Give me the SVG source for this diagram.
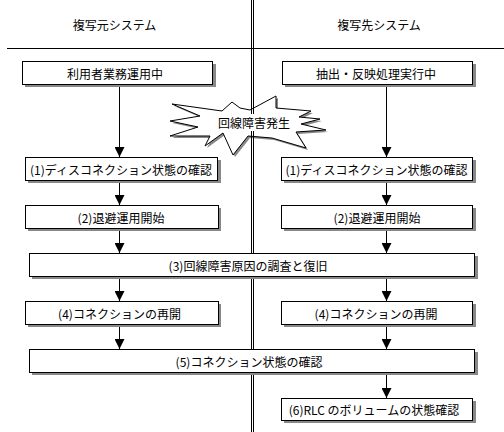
<svg xmlns="http://www.w3.org/2000/svg" width="504" height="432" viewBox="0 0 504 432">
<style>
text{font-family:"Noto Sans CJK JP","Noto Sans",sans-serif;font-size:12px;fill:#000;text-anchor:middle;dominant-baseline:central}
.box{fill:#fff;stroke:#000;stroke-width:1;shape-rendering:crispEdges}
.sh{fill:#888;shape-rendering:crispEdges}
.ln{stroke:#000;stroke-width:1;fill:none;shape-rendering:crispEdges}
.conn{stroke:#000;stroke-width:1;fill:none;marker-end:url(#ah)}
</style>
<defs>
<marker id="ah" viewBox="0 0 10 10" refX="10" refY="5" markerWidth="10" markerHeight="10" markerUnits="userSpaceOnUse" orient="auto">
<path d="M0,0 L10,5 L0,10 z" fill="#000"/>
</marker>
</defs>
<rect width="504" height="432" fill="#fff"/>
<g id="header">
<text x="114.5" y="24.5">複写元システム</text>
<text x="379" y="24.5">複写先システム</text>
<line class="ln" x1="7" y1="48.5" x2="504" y2="48.5"/>
</g>
<g id="burst">
<polygon fill="#888" transform="translate(2,2)" points="172,104 222,111 232,102 240,108 250,110 276,96 276,108 311,111 299,117 320,119 301,124 326,130 296,132 306,148 272,138 248,136 233,155 223,133 205,146 210,136 170,136 198,127 170,121 200,116"/>
<polygon fill="#fff" stroke="#000" stroke-width="1" stroke-linejoin="miter" points="172,104 222,111 232,102 240,108 250,110 276,96 276,108 311,111 299,117 320,119 301,124 326,130 296,132 306,148 272,138 248,136 233,155 223,133 205,146 210,136 170,136 198,127 170,121 200,116"/>
</g>
<g id="lanes">
<line class="ln" x1="251.5" y1="0" x2="251.5" y2="432"/>
<line class="ln" x1="253.5" y1="0" x2="253.5" y2="432"/>
</g>
<g id="burst-label">
<rect x="217" y="114" width="75" height="17" fill="#fff"/>
<text x="254" y="122.5">回線障害発生</text>
</g>
<g id="connectors">
<line class="conn" x1="119.5" y1="84" x2="119.5" y2="157"/>
<line class="conn" x1="386.5" y1="84" x2="386.5" y2="157"/>
<line class="conn" x1="119.5" y1="180" x2="119.5" y2="205"/>
<line class="conn" x1="386.5" y1="180" x2="386.5" y2="205"/>
<line class="conn" x1="119.5" y1="228" x2="119.5" y2="253"/>
<line class="conn" x1="386.5" y1="228" x2="386.5" y2="253"/>
<line class="conn" x1="119.5" y1="276" x2="119.5" y2="301"/>
<line class="conn" x1="386.5" y1="276" x2="386.5" y2="301"/>
<line class="conn" x1="119.5" y1="324" x2="119.5" y2="349"/>
<line class="conn" x1="386.5" y1="324" x2="386.5" y2="349"/>
<line class="conn" x1="386.5" y1="372" x2="386.5" y2="398"/>
</g>
<g id="src-running">
<rect class="sh" x="25" y="64" width="191" height="23"/>
<rect class="box" x="22.5" y="61.5" width="190" height="23"/>
<text x="115" y="73">利用者業務運用中</text>
</g>
<g id="dst-running">
<rect class="sh" x="285" y="64" width="191" height="23"/>
<rect class="box" x="282.5" y="61.5" width="190" height="23"/>
<text x="376" y="73">抽出・反映処理実行中</text>
</g>
<g id="src-step1">
<rect class="sh" x="28" y="160" width="193" height="23"/>
<rect class="box" x="25.5" y="157.5" width="192" height="23"/>
<text x="121" y="169">(1)ディスコネクション状態の確認</text>
</g>
<g id="dst-step1">
<rect class="sh" x="284" y="160" width="192" height="23"/>
<rect class="box" x="281.5" y="157.5" width="191" height="23"/>
<text x="376.5" y="169">(1)ディスコネクション状態の確認</text>
</g>
<g id="src-step2">
<rect class="sh" x="28" y="208" width="193" height="23"/>
<rect class="box" x="25.5" y="205.5" width="193" height="23"/>
<text x="121" y="217">(2)退避運用開始</text>
</g>
<g id="dst-step2">
<rect class="sh" x="284" y="208" width="192" height="23"/>
<rect class="box" x="281.5" y="205.5" width="191" height="23"/>
<text x="377" y="217">(2)退避運用開始</text>
</g>
<g id="step3">
<rect class="sh" x="32" y="256" width="446" height="23"/>
<rect class="box" x="29.5" y="253.5" width="445" height="23"/>
<text x="248" y="265">(3)回線障害原因の調査と復旧</text>
</g>
<g id="src-step4">
<rect class="sh" x="28" y="304" width="193" height="23"/>
<rect class="box" x="25.5" y="301.5" width="193" height="23"/>
<text x="119.5" y="313">(4)コネクションの再開</text>
</g>
<g id="dst-step4">
<rect class="sh" x="284" y="304" width="192" height="23"/>
<rect class="box" x="281.5" y="301.5" width="191" height="23"/>
<text x="376" y="313">(4)コネクションの再開</text>
</g>
<g id="step5">
<rect class="sh" x="32" y="352" width="446" height="23"/>
<rect class="box" x="29.5" y="349.5" width="445" height="23"/>
<text x="249" y="361">(5)コネクション状態の確認</text>
</g>
<g id="dst-step6">
<rect class="sh" x="284" y="401" width="192" height="22"/>
<rect class="box" x="281.5" y="398.5" width="191" height="22"/>
<text x="374" y="409.5">(6)RLC のボリュームの状態確認</text>
</g>
</svg>
